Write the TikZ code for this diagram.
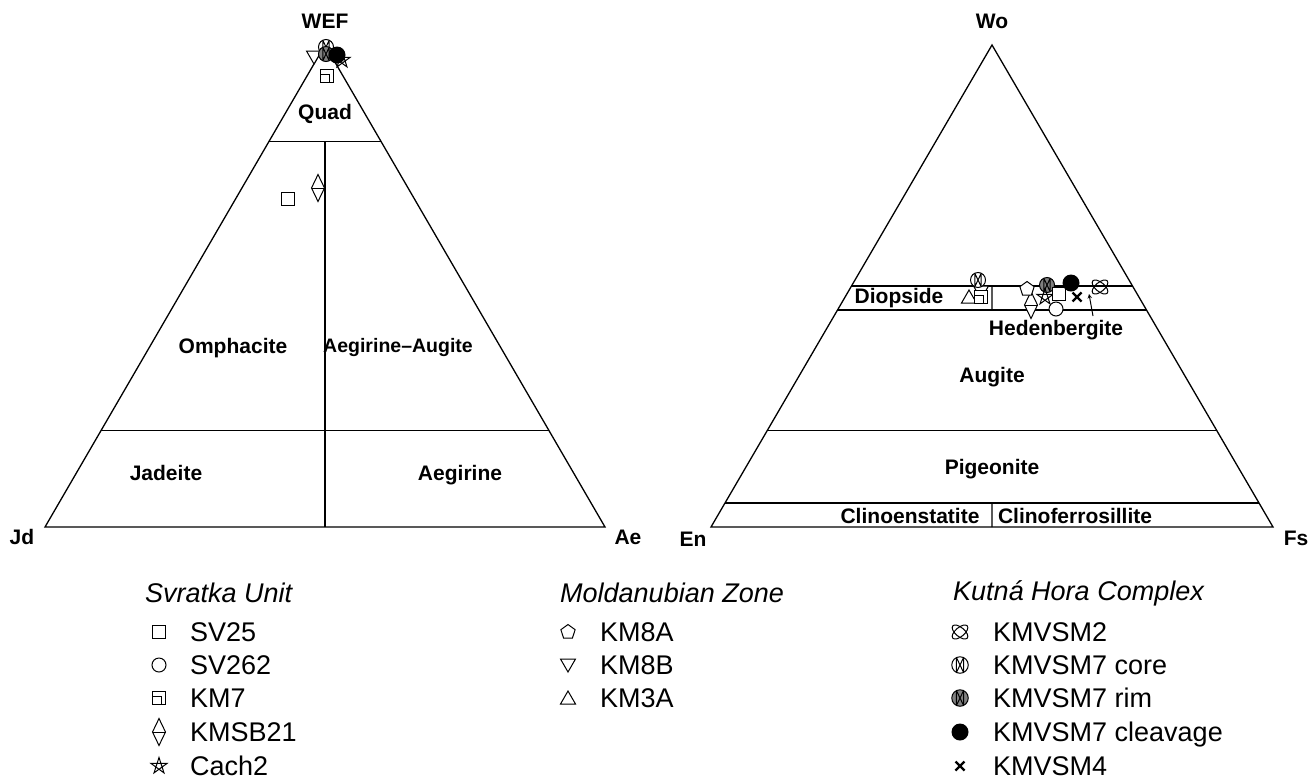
\documentclass[tikz,border=0pt]{standalone}
\usepackage{fontspec}
\setmainfont{Liberation Sans}
\usetikzlibrary{calc}
\begin{document}
\begin{tikzpicture}[x=1pt,y=-1pt,
  frame/.style={line width=1.3pt},
  symln/.style={line width=1pt},
  lab/.style={font=\fontsize{21}{24}\selectfont\bfseries, inner sep=0pt, text height=15pt, text depth=0pt},
  leg/.style={font=\fontsize{27}{30}\selectfont, inner sep=0pt, anchor=west, text height=19.5pt, text depth=0pt},
  head/.style={font=\fontsize{27}{30}\selectfont\itshape, inner sep=0pt, anchor=west},
  pics/sqs/.style={code={\draw[symln,fill=white] (-6.5,-6.5) rectangle (6.5,6.5);}},
  pics/cis/.style={code={\draw[symln,fill=white] (0,0) circle (7);}},
  pics/kms/.style={code={\draw[symln,fill=white] (-6.5,-6.5) rectangle (6.5,6.5);
      \draw[symln] (-6.5,-1.5) -- (2,-1.5) -- (2,6.5);}},
  pics/dms/.style={code={\draw[symln,fill=white] (0,-13.5) -- (6.5,0) -- (0,13.5) -- (-6.5,0) -- cycle;
      \draw[symln] (-6.5,0) -- (6.5,0);}},
  pics/sts/.style={code={\draw[symln] (-90:8.5) -- (54:8.5) -- (198:8.5) -- (-18:8.5) -- (126:8.5) -- cycle;}},
  pics/pts/.style={code={\draw[symln,fill=white] (-90:7.5) -- (-18:7.5) -- (54:7.5) -- (126:7.5) -- (198:7.5) -- cycle;}},
  pics/dts/.style={code={\draw[symln,fill=white] (0,7) -- (-7.5,-6) -- (7.5,-6) -- cycle;}},
  pics/uts/.style={code={\draw[symln,fill=white] (0,-7) -- (-7.5,6) -- (7.5,6) -- cycle;}},
  pics/ats/.style={code={\draw[symln,rotate=40] (0,0) ellipse (9.5 and 4.5);
      \draw[symln,rotate=-40] (0,0) ellipse (9.5 and 4.5);}},
  pics/cor/.style={code={\draw[symln,fill=#1] (0,0) circle (7.5);
      \draw[symln] (-3.2,-6.7) -- (-3.2,6.7) (3.2,-6.7) -- (3.2,6.7) (-3.2,-6.7) -- (3.2,6.7) (-3.2,6.7) -- (3.2,-6.7);}},
  pics/cor/.default=white,
  pics/bls/.style={code={\fill[black] (0,0) circle (8.5);}},
  pics/xs/.style={code={\draw[line width=2.2pt] (-4.5,-4.5) -- (4.5,4.5) (-4.5,4.5) -- (4.5,-4.5);}}
]
\useasboundingbox (0,0) rectangle (1311,780);

% ---------- left triangle ----------
\coordinate (Lt) at (325,45);
\coordinate (Ll) at (45,527);
\coordinate (Lr) at (605,527);
\draw[frame] (Lt) -- (Ll) -- (Lr) -- cycle;
\coordinate (Lq1) at ($(Lt)!0.2!(Ll)$);
\coordinate (Lq2) at ($(Lt)!0.2!(Lr)$);
\coordinate (Lj1) at ($(Lt)!0.8!(Ll)$);
\coordinate (Lj2) at ($(Lt)!0.8!(Lr)$);
\coordinate (Lm1) at ($(Lq1)!0.5!(Lq2)$);
\coordinate (Lm2) at ($(Ll)!0.5!(Lr)$);
\draw[frame] (Lq1) -- (Lq2) (Lj1) -- (Lj2) (Lm1) -- (Lm2);

\node[lab] (wef) at (325,21) {WEF};
\node[lab] (jd) at (22,537) {Jd};
\node[lab] (ae) at (628,537) {Ae};
\node[lab] (quad) at (325,112) {Quad};
\node[lab] (omph) at (233,346) {Omphacite};
\node[lab,font=\fontsize{19.5}{22}\selectfont\bfseries] (aeau) at (398,345) {Aegirine--Augite};
\node[lab] (jade) at (166,473) {Jadeite};
\node[lab] (aegi) at (460,473) {Aegirine};

% left symbols
\pic at (288,199) {sqs};
\pic at (318,188) {dms};
\pic at (314,57) {dts};
\pic at (327,76) {kms};
\pic at (326,47) {cor};
\pic at (326,54) {cor=gray};
\pic at (337,55) {bls};
\pic at (342,60) {sts};

% ---------- right triangle ----------
\coordinate (Rt) at (992,45);
\coordinate (Rl) at (711,527);
\coordinate (Rr) at (1273,527);
\draw[frame] (Rt) -- (Rl) -- (Rr) -- cycle;
\foreach \f/\n in {0.5/a,0.55/b,0.8/c,0.95/d}{
  \coordinate (R\n1) at ($(Rt)!\f!(Rl)$);
  \coordinate (R\n2) at ($(Rt)!\f!(Rr)$);
  \draw[frame] (R\n1) -- (R\n2);
}
\draw[frame] ($(Ra1)!0.5!(Ra2)$) -- ($(Rb1)!0.5!(Rb2)$);
\draw[frame] ($(Rd1)!0.5!(Rd2)$) -- ($(Rl)!0.5!(Rr)$);

\node[lab] (wo) at (992,21) {Wo};
\node[lab] (en) at (693,539) {En};
\node[lab] (fs) at (1296,538) {Fs};
\node[lab] (diop) at (899,296) {Diopside};
\node[lab] (hed) at (1056,328) {Hedenbergite};
\node[lab] (aug) at (992,375) {Augite};
\node[lab] (pig) at (992,467) {Pigeonite};
\node[lab] (cen) at (910,516) {Clinoenstatite};
\node[lab] (cfs) at (1075,516) {Clinoferrosillite};

% right symbols
\pic at (969,297) {uts};
\pic at (981,292) {dts};
\pic at (981,297) {kms};
\pic at (978,280) {cor};
\pic at (1031,305) {dms};
\pic at (1027,289) {pts};
\pic at (1056,309) {cis};
\pic at (1047,285) {cor=gray};
\pic at (1045,297) {sts};
\pic at (1059,294) {sqs};
\pic at (1071,283) {bls};
\pic at (1077,297) {xs};
\pic at (1100,287) {ats};
\coordinate (harr) at (1089,294);
\coordinate (hst) at (1093,316);
\draw[line width=1pt,-stealth] (hst) -- (harr);

% ---------- legend ----------
\node[head] (h1) at (145,593) {Svratka Unit};
\pic at (159,632) {sqs};   \node[leg] (l11) at (190,632) {SV25};
\pic at (159,665) {cis};   \node[leg] (l12) at (190,665) {SV262};
\pic at (159,698) {kms};   \node[leg] (l13) at (190,698) {KM7};
\pic at (159,732) {dms};   \node[leg] (l14) at (190,732) {KMSB21};
\pic at (159,766) {sts};   \node[leg] (l15) at (190,766) {Cach2};

\node[head] (h2) at (560,593) {Moldanubian Zone};
\pic at (568,632) {pts};   \node[leg] (l21) at (600,632) {KM8A};
\pic at (568,665) {dts};   \node[leg] (l22) at (600,665) {KM8B};
\pic at (568,698) {uts};   \node[leg] (l23) at (600,698) {KM3A};

\node[head] (h3) at (953,593) {Kutná Hora Complex};
\pic at (960,632) {ats};   \node[leg] (l31) at (993,632) {KMVSM2};
\pic[scale=1.1] at (960,665) {cor};   \node[leg] (l32) at (993,665) {KMVSM7 core};
\pic[scale=1.1] at (960,698) {cor=gray}; \node[leg] (l33) at (993,698) {KMVSM7 rim};
\pic at (960,732) {bls};   \node[leg] (l34) at (993,732) {KMVSM7 cleavage};
\pic at (960,766) {xs};    \node[leg] (l35) at (993,766) {KMVSM4};
\end{tikzpicture}
\end{document}
